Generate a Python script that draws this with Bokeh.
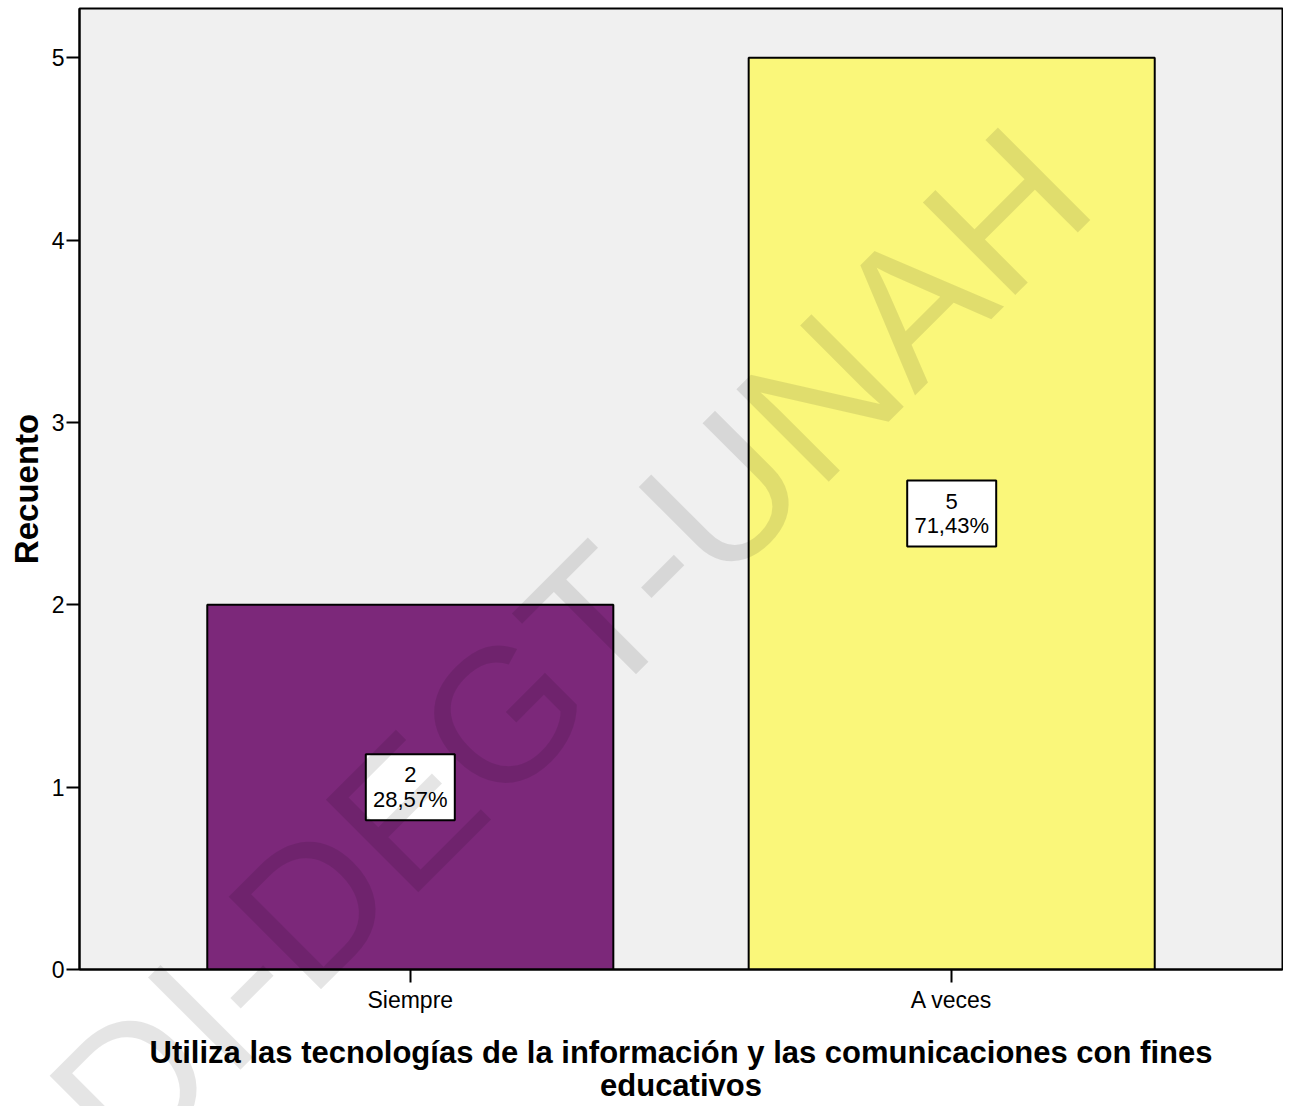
from bokeh.plotting import figure
from bokeh.models import ColumnDataSource, Range1d, FixedTicker, GridBox
from bokeh.core.properties import value
from bokeh.embed import file_html
from bokeh.resources import INLINE

# ---- data ----
categories = ["Siempre", "A veces"]
counts = [2, 5]
bar_colors = ["#7C287A", "#FAF77A"]
y_ticks = [0, 1, 2, 3, 4, 5]
x_title = "Utiliza las tecnologías de la información y las comunicaciones con fines\neducativos"
y_title = "Recuento"
watermark = "DI-DEGT-UNAH"

total = sum(counts)
positions = list(range(1, len(categories) + 1))
pct_labels = [f"{c}\n" + f"{100 * c / total:.2f}".replace(".", ",") + "%" for c in counts]

src = ColumnDataSource(dict(
    x=positions,
    top=counts,
    mid=[c / 2 for c in counts],
    color=bar_colors,
    label=pct_labels,
))

FONT = "Liberation Sans"
W, H = 1283, 1106

p = figure(width=W, height=H, output_backend="svg", toolbar_location=None,
           x_range=Range1d(0.389, 2.611), y_range=Range1d(0, 5.27),
           min_border_left=79, min_border_right=1, min_border_top=8, min_border_bottom=H - 969)

p.background_fill_color = "#F0F0F0"
p.border_fill_color = "white"
p.outline_line_color = "black"
p.outline_line_width = 2
p.grid.visible = False

p.vbar(x="x", top="top", bottom=0, width=0.75, fill_color="color",
       line_color="black", line_width=2, source=src)

p.rect(x="x", y="mid", width=89, height=66, width_units="screen", height_units="screen",
       fill_color="white", line_color="black", line_width=2, source=src)
p.text(x="x", y="mid", text="label", text_align="center", text_baseline="middle",
       text_font=value(FONT), text_font_size="22px", text_line_height=0.98,
       text_color="black", source=src)

# axes
for ax in (p.xaxis[0], p.yaxis[0]):
    ax.axis_line_width = 2
    ax.axis_line_color = "black"
    ax.major_tick_line_width = 2
    ax.major_tick_line_color = "black"
    ax.major_tick_out = 13
    ax.major_tick_in = 0
    ax.minor_tick_line_color = None
    ax.major_label_text_font = FONT
    ax.major_label_text_font_size = "23px"
    ax.major_label_text_color = "black"
    ax.axis_label_text_font = FONT
    ax.axis_label_text_font_style = "bold"
    ax.axis_label_text_color = "black"

p.xaxis.ticker = FixedTicker(ticks=positions)
p.xaxis.major_label_overrides = {pos: cat for pos, cat in zip(positions, categories)}
p.xaxis.major_label_standoff = 4
p.xaxis.axis_label = x_title
p.xaxis.axis_label_text_font_size = "31px"
p.xaxis.axis_label_standoff = 19
p.xaxis.axis_label_text_line_height = 0.97

p.yaxis.ticker = FixedTicker(ticks=y_ticks)
p.yaxis.major_label_standoff = 2
p.yaxis.axis_label = y_title
p.yaxis.axis_label_text_font_size = "33px"
p.yaxis.axis_label_standoff = 4

# transparent overlay for the watermark (spans the whole canvas)
ov = figure(width=W, height=H, output_backend="svg", toolbar_location=None,
            x_range=Range1d(0, W), y_range=Range1d(0, H),
            min_border=0, x_axis_type=None, y_axis_type=None)
ov.background_fill_alpha = 0
ov.border_fill_alpha = 0
ov.outline_line_color = None
ov.grid.visible = False
ov.text(x=[569], y=[H - 647], text=[watermark], angle=45, angle_units="deg",
        text_align="center", text_baseline="alphabetic",
        text_font=value(FONT), text_font_size="190px",
        text_color="black", text_alpha=0.1)

for fig in (p, ov):
    if "frame_align" in fig.properties():
        fig.frame_align = False

layout = GridBox(children=[(p, 0, 0), (ov, 0, 0)])

open("out.html", "w").write(file_html(layout, INLINE))
